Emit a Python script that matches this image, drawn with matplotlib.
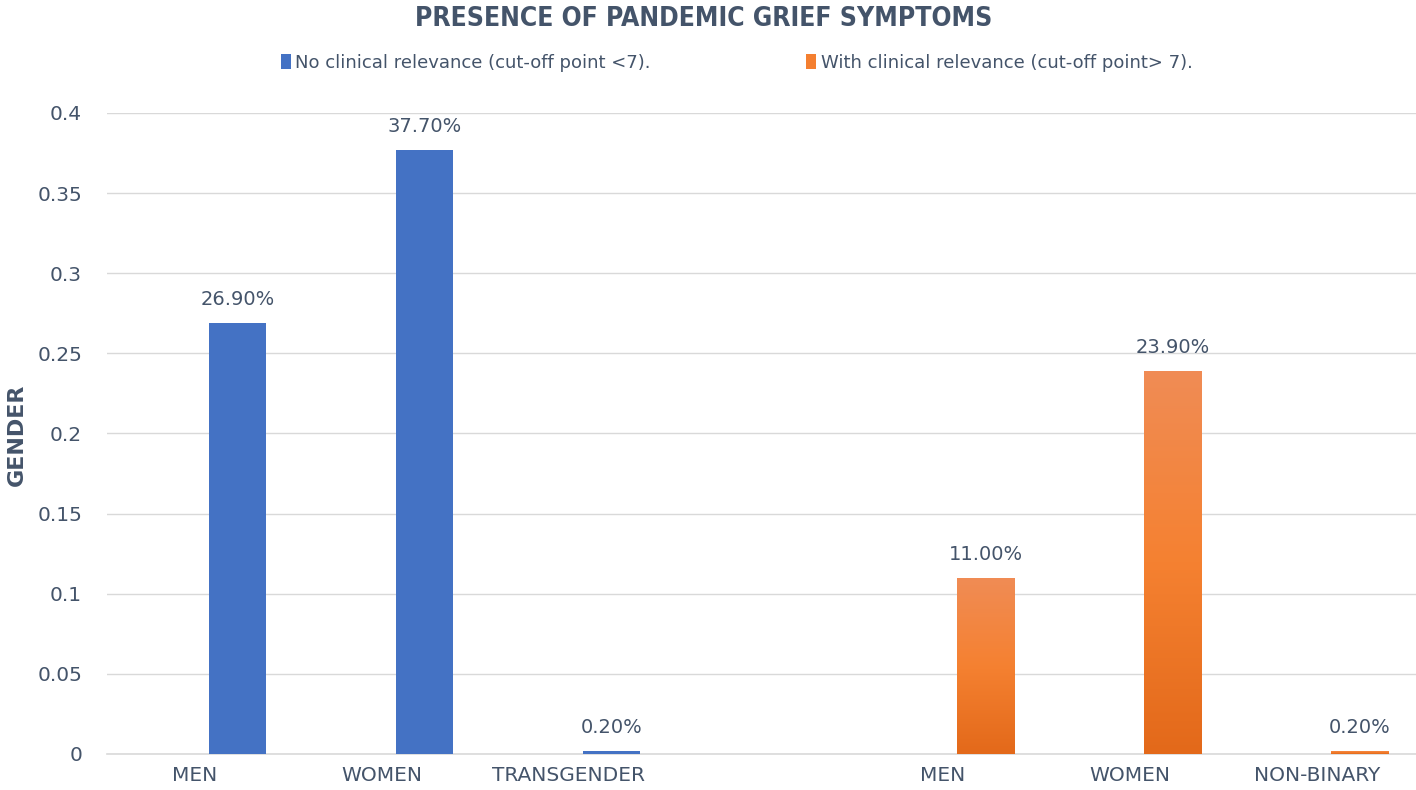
import numpy as np
import matplotlib
matplotlib.use("Agg")
import matplotlib.pyplot as plt
from matplotlib.patches import Patch
from matplotlib.colors import LinearSegmentedColormap

# data
series_names = ["No clinical relevance (cut-off point <7).",
                "With clinical relevance (cut-off point> 7)."]
no_clin_labels = ["MEN", "WOMEN", "TRANSGENDER"]
no_clin_vals = [0.269, 0.377, 0.002]
clin_labels = ["MEN", "WOMEN", "NON-BINARY"]
clin_vals = [0.110, 0.239, 0.002]

title = "PRESENCE OF PANDEMIC GRIEF SYMPTOMS"
ylabel = "GENDER"

plt.rcParams['font.family'] = ['DejaVu Sans']
txt = "#44546A"
blue = "#4472C4"
orange = "#F47F30"
orange_cmap = LinearSegmentedColormap.from_list(
    "org", ["#F08C55", "#F58131", "#E3691A"])

fig = plt.figure(figsize=(14.16, 7.9), dpi=100)
ax = fig.add_axes([0.0756, 0.0456, 0.9244, 0.8114])

x1 = np.arange(len(no_clin_vals))
x2 = np.arange(len(clin_vals)) + len(no_clin_vals) + 1
off = 0.23
w = 0.305

bars1 = ax.bar(x1 + off, no_clin_vals, width=w, color=blue, zorder=3)
bars2 = ax.bar(x2 + off, clin_vals, width=w, color="none", zorder=3)

# gradient fill for orange bars
grad = np.linspace(0, 1, 256).reshape(-1, 1)
for b in bars2:
    x0 = b.get_x()
    h = b.get_height()
    im = ax.imshow(grad, cmap=orange_cmap, aspect="auto",
                   extent=(x0, x0 + b.get_width(), 0, h),
                   origin="upper", zorder=3)
    im.set_clip_path(b)

for b, v in list(zip(bars1, no_clin_vals)) + list(zip(bars2, clin_vals)):
    ax.annotate("%.2f%%" % (v * 100), (b.get_x() + b.get_width() / 2, v),
                xytext=(0, 10), textcoords="offset points",
                ha="center", va="bottom", fontsize=14, color=txt)

ax.set_xlim(-0.47, 6.53)
ax.set_ylim(0, 0.4)
ax.set_yticks(np.arange(0, 0.401, 0.05))
ax.set_yticklabels(["0", "0.05", "0.1", "0.15", "0.2", "0.25", "0.3", "0.35", "0.4"])
ax.set_xticks(list(x1) + list(x2))
ax.set_xticklabels(no_clin_labels + clin_labels)
ax.tick_params(axis="both", length=0, labelsize=14.5, colors=txt)
ax.tick_params(axis="y", pad=18)
ax.tick_params(axis="x", pad=9)
ax.grid(axis="y", color="#D9D9D9", lw=1, zorder=0)
ax.axhline(0, color="#D9D9D9", lw=1.2, zorder=2, clip_on=False)
for s in ax.spines.values():
    s.set_visible(False)

fig.text(0.012, 0.45, ylabel, rotation=90, ha="center", va="center",
         fontsize=16, fontweight="bold", color=txt)
fig.text(0.497, 0.976, title, ha="center", va="center",
         fontsize=19, fontweight="bold", fontstretch="condensed", color=txt)

# one legend entry per series, placed like the original
for name, col, xpos in [(series_names[0], blue, 0.187), (series_names[1], orange, 0.558)]:
    leg = fig.legend([Patch(facecolor=col)], [name], loc="center left",
                     bbox_to_anchor=(xpos, 0.92), frameon=False, fontsize=13,
                     handlelength=0.55, handleheight=0.9, handletextpad=0.25,
                     labelcolor=txt)

fig.savefig("out.png", dpi=100)
